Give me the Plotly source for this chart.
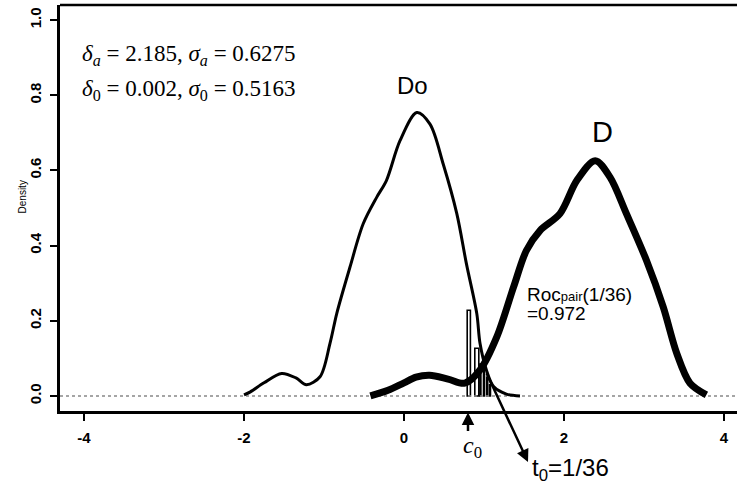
import plotly.graph_objects as go

# ---- data ----
d0_x = [-2.0, -1.92, -1.75, -1.53, -1.35, -1.22, -1.05, -0.925, -0.84, -0.675, -0.51, -0.34,
        -0.22, -0.05, 0.16, 0.325, 0.49, 0.66, 0.78, 0.91, 0.95, 1.03, 1.12, 1.28, 1.45]
d0_y = [0.003, 0.011, 0.035, 0.060, 0.048, 0.030, 0.051, 0.140, 0.220, 0.343, 0.458, 0.529,
        0.573, 0.679, 0.754, 0.723, 0.617, 0.485, 0.352, 0.219, 0.140, 0.069, 0.025, 0.005, 0.0]

d_x = [-0.42, -0.2, 0.0, 0.15, 0.32, 0.55, 0.76, 0.95, 1.16, 1.37, 1.53, 1.70, 1.95, 2.16,
       2.39, 2.575, 2.78, 3.03, 3.24, 3.41, 3.575, 3.78]
d_y = [0.0, 0.015, 0.035, 0.050, 0.055, 0.045, 0.034, 0.069, 0.157, 0.290, 0.387, 0.440,
       0.485, 0.573, 0.626, 0.582, 0.485, 0.361, 0.237, 0.113, 0.034, 0.003]

spike_x = [0.81, 0.91, 0.955, 1.0, 1.04, 1.075]
spike_h = [0.228, 0.127, 0.085, 0.07, 0.05, 0.03]
spike_w = [0.04, 0.05, 0.012, 0.012, 0.012, 0.012]

x_ticks = [-4, -2, 0, 2, 4]
x_tick_text = ["-4", "-2", "0", "2", "4"]
y_ticks = [0.0, 0.2, 0.4, 0.6, 0.8, 1.0]
y_tick_text = ["0.0", "0.2", "0.4", "0.6", "0.8", "1.0"]

c0 = 0.80
t0_head = (1.55, -0.1256)

SANS = "Liberation Sans, Arial, sans-serif"
SERIF = "Liberation Serif, Times New Roman, serif"

fig = go.Figure()

# baseline dotted line at density 0
fig.add_trace(go.Scatter(x=[-4.3, 4.2], y=[0, 0], mode="lines",
                         line=dict(color="#888888", width=1.5, dash="dot"),
                         hoverinfo="skip", showlegend=False))

# spikes near c0
fig.add_trace(go.Bar(x=spike_x, y=spike_h, width=spike_w,
                     marker=dict(color="rgba(255,255,255,0)", line=dict(color="black", width=1.6)),
                     showlegend=False, hoverinfo="skip"))

# D0 (thin) curve
fig.add_trace(go.Scatter(x=d0_x, y=d0_y, mode="lines",
                         line=dict(color="black", width=3, shape="spline", smoothing=0.9),
                         showlegend=False, hoverinfo="skip"))
# D (thick) curve
fig.add_trace(go.Scatter(x=d_x, y=d_y, mode="lines",
                         line=dict(color="black", width=7, shape="spline", smoothing=0.9),
                         showlegend=False, hoverinfo="skip"))

ann = []
# top-left parameters
ann.append(dict(xref="paper", yref="paper", x=0.0295, y=0.878, xanchor="left", yanchor="middle",
                text="<i>δ</i><sub><i>a</i></sub> = 2.185, <i>σ</i><sub><i>a</i></sub> = 0.6275",
                showarrow=False, font=dict(family=SERIF, size=23, color="black")))
ann.append(dict(xref="paper", yref="paper", x=0.0295, y=0.790, xanchor="left", yanchor="middle",
                text="<i>δ</i><sub>0</sub> = 0.002, <i>σ</i><sub>0</sub> = 0.5163",
                showarrow=False, font=dict(family=SERIF, size=23, color="black")))
# curve labels
ann.append(dict(x=0.10, y=0.825, text="Do", showarrow=False,
                font=dict(family=SANS, size=24, color="black")))
ann.append(dict(x=2.475, y=0.703, text="D", showarrow=False,
                font=dict(family=SANS, size=29, color="black")))
ann.append(dict(x=1.5125, y=0.270, xanchor="left", yanchor="middle",
                text="Roc<span style='font-size:13px'>pair</span>(1/36)",
                showarrow=False, font=dict(family=SANS, size=19, color="black")))
ann.append(dict(x=1.5125, y=0.220, xanchor="left", yanchor="middle", text="=0.972", showarrow=False,
                font=dict(family=SANS, size=19, color="black")))
# c0 arrow + label
ann.append(dict(x=c0, y=-0.004, xref="x", yref="paper", ax=0, ay=20, text="",
                showarrow=True, arrowhead=2, arrowsize=1, arrowwidth=2.5, arrowcolor="black"))
ann.append(dict(x=c0 - 0.09, y=-0.088, xref="x", yref="paper", xanchor="left", yanchor="middle",
                text="<i>c</i><sub>0</sub>",
                showarrow=False, font=dict(family=SERIF, size=24, color="black")))
# t0 arrow + label
ann.append(dict(x=t0_head[0], y=t0_head[1], xref="x", yref="paper", ax=-42, ay=-90, text="",
                showarrow=True, arrowhead=2, arrowsize=1, arrowwidth=2.5, arrowcolor="black"))
ann.append(dict(x=1.58, y=-0.145, xref="x", yref="paper", xanchor="left", yanchor="middle",
                text="t<sub>0</sub>=1/36",
                showarrow=False, font=dict(family=SANS, size=24, color="black")))
# y-axis title
ann.append(dict(xref="paper", yref="paper", x=-0.066, y=0.528, text="Density", textangle=-90,
                showarrow=False, font=dict(family=SANS, size=10, color="black")))

fig.update_layout(
    width=737, height=485,
    margin=dict(l=60, r=0, t=5, b=74, autoexpand=False),
    paper_bgcolor="white", plot_bgcolor="white",
    barmode="overlay",
    annotations=ann,
    shapes=[dict(type="line", xref="paper", yref="paper", x0=0, x1=1, y0=1, y1=1,
                 line=dict(color="black", width=2.5))],
    xaxis=dict(range=[-4.3, 4.1625], showgrid=False, zeroline=False, automargin=False,
               showline=True, linecolor="black", linewidth=2.5,
               ticks="outside", ticklen=7, tickwidth=2, tickcolor="black",
               tickvals=x_ticks, ticktext=x_tick_text, ticklabelstandoff=4,
               tickfont=dict(family=SANS, size=15, color="black", weight="bold")),
    yaxis=dict(range=[-0.04, 1.04], showgrid=False, zeroline=False, automargin=False,
               showline=True, linecolor="black", linewidth=2.5,
               ticks="outside", ticklen=7, tickwidth=2, tickcolor="black",
               tickvals=y_ticks, ticktext=y_tick_text, tickangle=-90, ticklabelstandoff=3,
               tickfont=dict(family=SANS, size=15, color="black", weight="bold")),
)

fig.write_html("out.html", config={"displayModeBar": False},
               post_script="document.body.style.margin='0';document.body.style.overflow='hidden';")
